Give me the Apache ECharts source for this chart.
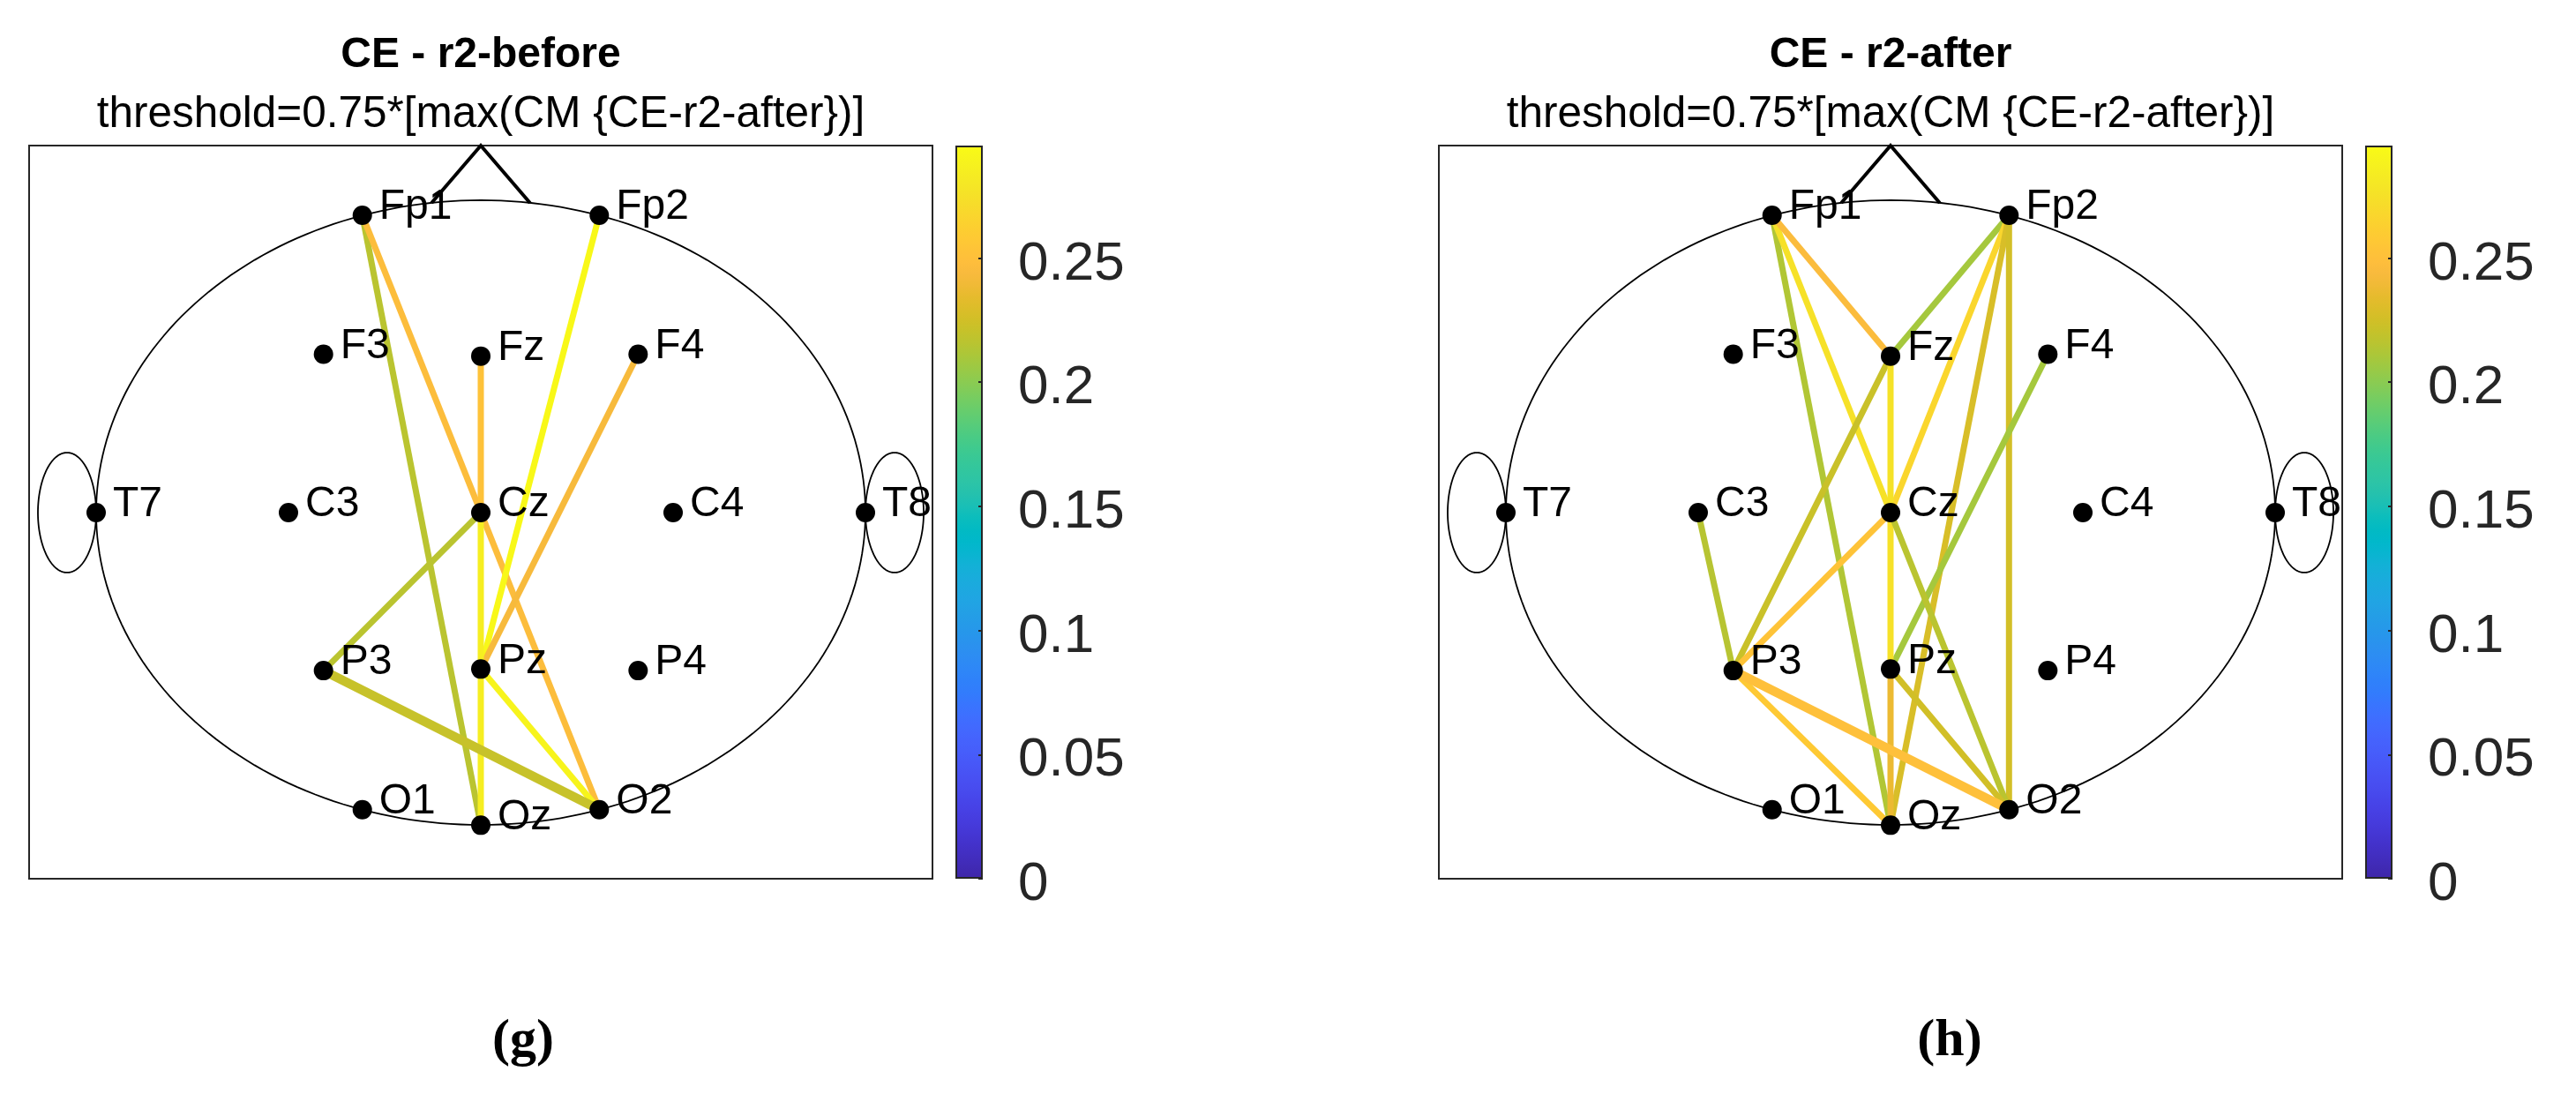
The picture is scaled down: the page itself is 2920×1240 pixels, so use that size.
<!DOCTYPE html>
<html><head><meta charset="utf-8">
<script src="https://cdn.jsdelivr.net/npm/echarts@6/dist/echarts.min.js"></script>
<style>html,body{margin:0;padding:0;background:#fff}#c{width:2920px;height:1240px}</style>
</head><body><div id="c"></div>
<script>
// ================= DATA =================
const ELECTRODES = ['Fp1','Fp2','F3','Fz','F4','T7','C3','Cz','C4','T8','P3','Pz','P4','O1','Oz','O2'];
const ELEC_X = [-0.308, 0.308, -0.409, 0, 0.409, -1, -0.5, 0, 0.5, 1, -0.409, 0, 0.409, -0.308, 0, 0.308];
const ELEC_Y = [0.952, 0.952, 0.507, 0.501, 0.507, 0, 0, 0, 0, 0, -0.506, -0.501, -0.506, -0.951, -1.001, -0.951];

// panel (g): CE - r2-before
const BEFORE_FROM = ['Fp1','Fp1','Fz','Fp2','F4','Cz','Cz','Pz','P3'];
const BEFORE_TO   = ['Oz', 'O2', 'Cz','Pz', 'Pz','P3','Oz','O2','O2'];
const BEFORE_VAL  = [0.216,0.247,0.252,0.293,0.243,0.216,0.285,0.290,0.221];

// panel (h): CE - r2-after
const AFTER_FROM = ['Fp1','Fp1','Fp1','Fp2','Fp2','Fp2','Fp2','F4','C3','Fz','Fz','Cz','Pz','Cz','Cz','Pz','P3','P3'];
const AFTER_TO   = ['Oz', 'Cz', 'Fz', 'Fz', 'Cz', 'Oz', 'O2', 'Pz','P3','P3','Cz','Pz','Oz','P3','O2','O2','Oz','O2'];
const AFTER_VAL  = [0.213,0.275,0.246,0.209,0.267,0.228,0.226,0.209,0.215,0.222,0.276,0.275,0.237,0.253,0.216,0.225,0.258,0.250];

const PANEL_TITLES = ['CE - r2-before', 'CE - r2-after'];
const PANEL_SUBTITLE = 'threshold=0.75*[max(CM {CE-r2-after})]';
const PANEL_TAGS = ['(g)', '(h)'];
const CBAR_MIN = 0, CBAR_MAX = 0.2953, CBAR_STEP = 0.05;

// ================= STYLE =================
const PARULA = ['#3e26a8','#402ab4','#422ec0','#4332cb','#4537d5','#463cde','#4741e5','#4747eb','#484df0','#4852f4','#4758f8','#465efb','#4563fd','#4269fe','#3e6fff','#3875fe','#327cfc','#2f81fa','#2e87f7','#2d8cf3','#2b91ef','#2796eb','#259be8','#23a0e5','#20a5e3','#1ca9df','#18addb','#12b1d6','#08b5d0','#01b8ca','#02bac3','#0bbdbd','#19bfb6','#24c1ae','#2cc4a7','#31c69f','#37c897','#3fca8e','#4acb84','#57cc7a','#64cd6f','#72cd64','#81cc59','#8fcb4e','#9dc943','#abc739','#b9c431','#c5c22a','#d1bf27','#dcbd29','#e6bb2d','#f0ba36','#f8ba3d','#febe3c','#fec338','#fec934','#fccf30','#fad62d','#f7dc2a','#f5e327','#f5e924','#f6ef20','#f7f51b','#f9fb15'];
const FONT = '"Liberation Sans", Arial, Helvetica, sans-serif';
const X_RANGE = [-1.1743, 1.1743], Y_RANGE = [-1.1723, 1.1751];
const HEAD_LEFT = [33, 1631], HEAD_TOP = 165, HEAD_W = 1024, HEAD_H = 831;
const CBAR_LEFT = [1083, 2681], CBAR_W = 31;
const THICK_EDGES = ['P3-O2'];
const NOSE_W = 0.128, NOSE_BASE = 0.9915, NOSE_TIP = 1.1751;
const EAR_CX = 1.0757, EAR_RX = 0.0757, EAR_RY = 0.192;

function idx(n){ return ELECTRODES.indexOf(n); }
function edgeRows(from, to, val){
  return from.map((f,i)=>[ELEC_X[idx(f)], ELEC_Y[idx(f)], ELEC_X[idx(to[i])], ELEC_Y[idx(to[i])], val[i], f + '-' + to[i]]);
}
function renderOutline(params, api){
  const ell = (cx, cy, rx, ry) => { const pts = []; for (let a = 0; a <= 360; a += 1.5){ const t = a*Math.PI/180; pts.push(api.coord([cx + rx*Math.cos(t), cy + ry*Math.sin(t)])); } return pts; };
  const st = {stroke:'#000', lineWidth:1.8, fill:null};
  return {type:'group', children:[
    {type:'polyline', shape:{points: ell(0,0,1,1)}, style: st},
    {type:'polyline', shape:{points: ell(-EAR_CX,0,EAR_RX,EAR_RY)}, style: st},
    {type:'polyline', shape:{points: ell(EAR_CX,0,EAR_RX,EAR_RY)}, style: st},
    {type:'polyline', shape:{points:[api.coord([-NOSE_W,NOSE_BASE]), api.coord([0,NOSE_TIP]), api.coord([NOSE_W,NOSE_BASE])]}, style:{stroke:'#000', lineWidth:4, fill:null}}
  ]};
}
function renderEdge(params, api){
  const p1 = api.coord([api.value(0), api.value(1)]);
  const p2 = api.coord([api.value(2), api.value(3)]);
  const key = api.value(5);
  return {type:'line', shape:{x1:p1[0], y1:p1[1], x2:p2[0], y2:p2[1]},
    style:{stroke: api.visual('color'), lineWidth: THICK_EDGES.indexOf(key) >= 0 ? 10.5 : 7, lineCap:'butt'}};
}
const nodeData = ELECTRODES.map((n,i)=>[ELEC_X[i], ELEC_Y[i], n]);

const grids = [], xAxes = [], yAxes = [], series = [], graphics = [];
[0,1].forEach(p=>{
  grids.push({left: HEAD_LEFT[p], top: HEAD_TOP, width: HEAD_W, height: HEAD_H, show:true, borderColor:'#262626', borderWidth:2, backgroundColor:'transparent'});
  xAxes.push({type:'value', gridIndex:p, min:X_RANGE[0], max:X_RANGE[1], show:false});
  yAxes.push({type:'value', gridIndex:p, min:Y_RANGE[0], max:Y_RANGE[1], show:false});
});
[0,1].forEach(p=>{
  grids.push({left: CBAR_LEFT[p], top: HEAD_TOP, width: CBAR_W, height: HEAD_H, show:false});
  xAxes.push({type:'category', gridIndex:2+p, data:['cb'], show:false});
  yAxes.push({type:'value', gridIndex:2+p, min:CBAR_MIN, max:CBAR_MAX, interval:CBAR_STEP, position:'right', z:10,
    axisLine:{show:false}, splitLine:{show:false},
    axisTick:{show:true, inside:true, length:5, lineStyle:{color:'#262626', width:2}},
    axisLabel:{show:true, inside:false, margin:40, fontSize:62, color:'#262626', fontFamily:FONT, showMaxLabel:false,
      verticalAlign:'top', lineHeight:14,
      formatter: v => (Math.abs(v % CBAR_STEP) < 1e-6 || Math.abs(CBAR_STEP - v % CBAR_STEP) < 1e-6) ? String(+v.toFixed(2)) : ''}});
});
const edgeSets = [edgeRows(BEFORE_FROM, BEFORE_TO, BEFORE_VAL), edgeRows(AFTER_FROM, AFTER_TO, AFTER_VAL)];
[0,1].forEach(p=>{
  series.push({type:'custom', xAxisIndex:p, yAxisIndex:p, z:2, silent:true, renderItem: renderOutline, data:[[0,0]]});
  series.push({type:'custom', xAxisIndex:p, yAxisIndex:p, z:3, renderItem: renderEdge,
    dimensions:['x1','y1','x2','y2','val','key'], encode:{x:[0,2], y:[1,3]}, data: edgeSets[p]});
  series.push({type:'scatter', xAxisIndex:p, yAxisIndex:p, z:5, symbol:'circle', symbolSize:22,
    itemStyle:{color:'#000', opacity:1}, data: nodeData,
    label:{show:true, position:'right', distance:8, offset:[0,-9], formatter: q => q.data[2], fontSize:48, color:'#000', fontFamily:FONT}});
});
[0,1].forEach(p=>{
  series.push({type:'bar', xAxisIndex:2+p, yAxisIndex:2+p, barWidth:'100%', z:2, data:[CBAR_MAX],
    itemStyle:{borderColor:'#262626', borderWidth:2,
      color:{type:'linear', x:0, y:1, x2:0, y2:0, colorStops: PARULA.map((c,i)=>({offset: i/(PARULA.length-1), color:c}))}}});
});
const centers = [HEAD_LEFT[0] + HEAD_W/2, HEAD_LEFT[1] + HEAD_W/2];
[0,1].forEach(p=>{
  graphics.push({type:'text', x:centers[p], y:63, style:{text:PANEL_TITLES[p], fontSize:48, fontWeight:'bold', fontFamily:FONT, fill:'#000', align:'center', verticalAlign:'middle'}});
  graphics.push({type:'text', x:centers[p], y:130, style:{text:PANEL_SUBTITLE, fontSize:49.5, fontFamily:FONT, fill:'#000', align:'center', verticalAlign:'middle'}});
  graphics.push({type:'text', x:[593, 2210][p], y:1180, style:{text:PANEL_TAGS[p], fontSize:60, fontWeight:'bold', fontFamily:'"Liberation Serif", "Times New Roman", serif', fill:'#000', align:'center', verticalAlign:'middle'}});
});

const chart = echarts.init(document.getElementById('c'), null, {renderer:'canvas'});
chart.setOption({
  animation:false, backgroundColor:'#fff',
  grid: grids, xAxis: xAxes, yAxis: yAxes,
  visualMap:[{type:'continuous', show:false, min:CBAR_MIN, max:CBAR_MAX, dimension:4, seriesIndex:[1,4], inRange:{color: PARULA}}],
  series: series, graphic: graphics
});
</script></body></html>
